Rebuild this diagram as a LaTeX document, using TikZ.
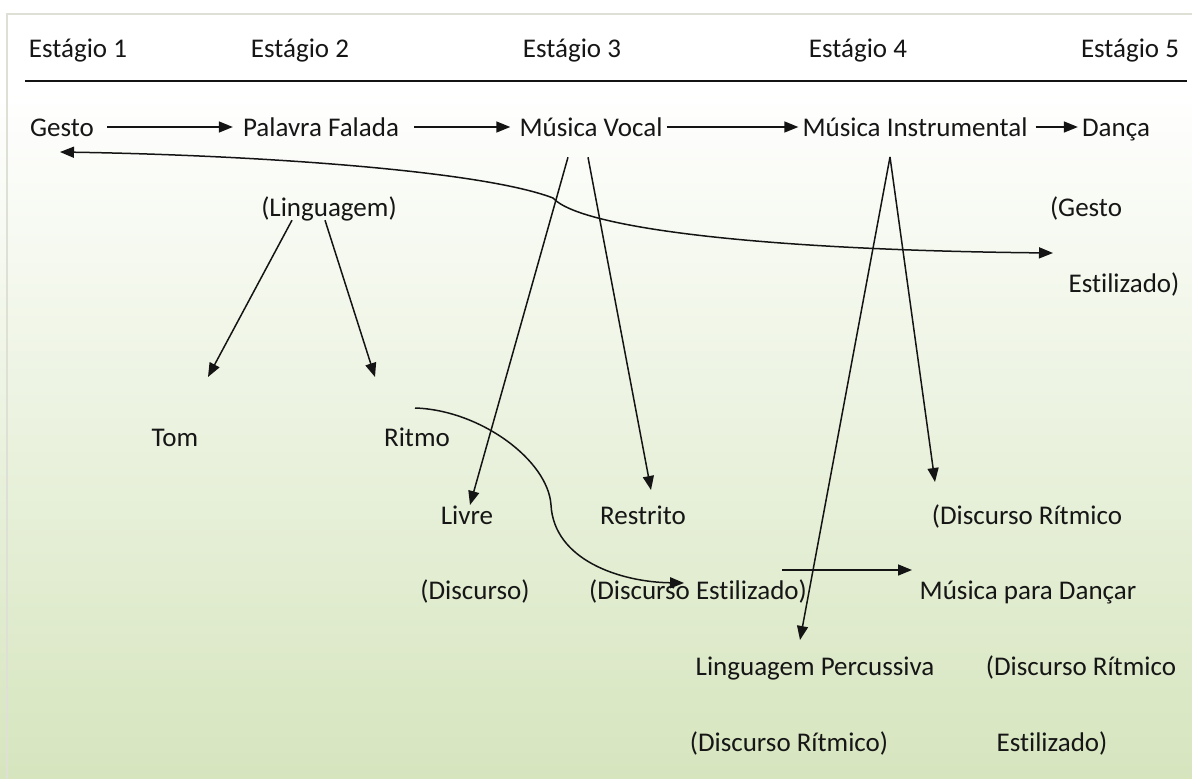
\documentclass[tikz,border=0pt]{standalone}
\usepackage{fontspec}
\setmainfont{Carlito}[Ligatures=NoCommon]
\usetikzlibrary{arrows.meta}
\definecolor{txt}{RGB}{22,22,22}
\definecolor{ln}{RGB}{20,20,20}
\definecolor{bggreen}{RGB}{214,229,190}
\definecolor{framegray}{RGB}{222,224,214}
\begin{document}
\begin{tikzpicture}[x=1pt,y=-1pt,
  lbl/.style={font=\fontsize{27}{32}\selectfont,text=txt,text height=18pt,text depth=0pt,inner sep=4pt},
  arr/.style={-{Triangle[length=14pt,width=11pt]},line width=1.5pt,draw=ln},
  dbl/.style={{Triangle[length=14pt,width=11pt]}-{Triangle[length=14pt,width=11pt]},line width=1.5pt,draw=ln}]
\useasboundingbox (0,0) rectangle (1192,779);
%\tikzstyle{every node}=[lbl]
\fill[white] (0,0) rectangle (1192,779);
\shade[top color=white,bottom color=bggreen] (0,90) rectangle (1192,779);
\draw[framegray,line width=1.5pt] (7,779) -- (7,14) -- (1192,14);

\node[lbl] (st1) at (78,48) {Estágio 1};
\node[lbl] (st2) at (300,48) {Estágio 2};
\node[lbl] (st3) at (572,48) {Estágio 3};
\node[lbl] (st4) at (858,48) {Estágio 4};
\node[lbl] (st5) at (1130,48) {Estágio 5};
\draw[ln,line width=2.8pt] (25,81) -- (1187,81);

\node[lbl] (gesto) at (62,127) {Gesto};
\node[lbl] (palavra) at (321,127) {Palavra Falada};
\node[lbl] (vocal) at (591,127) {Música Vocal};
\node[lbl] (instr) at (915,127) {Música Instrumental};
\node[lbl] (danca) at (1116,127) {Dança};

\node[lbl] (ling) at (329,207) {(Linguagem)};
\node[lbl] (gestoest) at (1086,207) {(Gesto};
\node[lbl] (estil1) at (1124,283) {Estilizado)};

\node[lbl] (tom) at (175,437) {Tom};
\node[lbl] (ritmo) at (417,437) {Ritmo};

\node[lbl] (livre) at (467,515) {Livre};
\node[lbl] (restrito) at (643,515) {Restrito};
\node[lbl] (drit1) at (1027,515) {(Discurso Rítmico};

\node[lbl] (disc) at (475,590) {(Discurso)};
\node[lbl] (discest) at (698,590) {(Discurso Estilizado)};
\node[lbl] (dancar) at (1028,590) {Música para Dançar};

\node[lbl] (lperc) at (815,666) {Linguagem Percussiva};
\node[lbl] (drit2) at (1081,666) {(Discurso Rítmico};

\node[lbl] (drit3) at (789,742) {(Discurso Rítmico)};
\node[lbl] (estil2) at (1052,742) {Estilizado)};

\coordinate (gback) at (60,152);
\coordinate (gkink) at (553,198);
\coordinate (gfwd) at (1053,253);
\coordinate (tomtip) at (208,377);
\coordinate (rittip) at (375,377);
\coordinate (livtip) at (470,505);
\coordinate (restip) at (651,490);
\coordinate (ritstart) at (415,408);
\coordinate (ritmid) at (551,505);
\coordinate (ritend) at (684,583);
\coordinate (top4) at (890,157);
\coordinate (perctip) at (800,640);
\coordinate (drittip) at (935,482);
\coordinate (hstart) at (782,570);
\coordinate (htip) at (912,570);

\draw[arr,shorten <=9pt,shorten >=6pt] (gesto) -- (palavra);
\draw[arr,shorten <=11pt,shorten >=5pt] (palavra) -- (vocal);
\draw[arr] (vocal) -- (instr);
\draw[arr,shorten <=4pt] (instr) -- (danca);

\draw[dbl] (gback) .. controls (250,155) and (480,170) .. (gkink)
  .. controls (580,228) and (760,250) .. (gfwd);

\draw[arr] ([xshift=-37pt]ling.south) -- (tomtip);
\draw[arr] ([xshift=-4pt]ling.south) -- (rittip);

\draw[arr] ([xshift=-23pt,yshift=-17pt]vocal.south) -- (livtip);
\draw[arr] ([xshift=-3pt,yshift=-17pt]vocal.south) -- (restip);

\draw[arr] (ritstart) .. controls (480,410) and (548,460) .. (ritmid)
  .. controls (554,560) and (620,582) .. (ritend);

\draw[arr] (top4) -- (perctip);
\draw[arr] (top4) -- (drittip);
\draw[arr] (hstart) -- (htip);
\end{tikzpicture}
\end{document}
